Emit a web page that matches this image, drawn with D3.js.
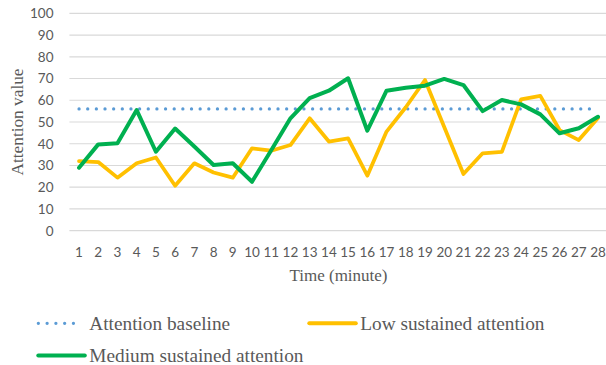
<!DOCTYPE html>
<html>
<head>
<meta charset="utf-8">
<script src="https://cdn.jsdelivr.net/npm/d3@7"></script>
<style>
  html, body { margin: 0; padding: 0; background: #fff; }
  svg { display: block; }
</style>
</head>
<body>
<svg id="chart" width="606" height="365"></svg>
<script>
const minutes = d3.range(1, 29).map(String);
const yTicks = [0, 10, 20, 30, 40, 50, 60, 70, 80, 90, 100];
const baselineValue = 56;
const baseline = minutes.map(() => baselineValue);
const lowSustained = [32, 31.6, 24.4, 31, 33.7, 20.7, 31, 26.8, 24.4, 37.9, 36.8, 39.4, 51.7, 41, 42.5, 25.3, 45.6, 56.8, 69.3, 47.7, 26.1, 35.6, 36.3, 60.4, 62, 46.3, 41.7, 51.8];
const mediumSustained = [29, 39.7, 40.2, 55.5, 36.3, 47, 38.7, 30.2, 31, 22.5, 37, 51.7, 61, 64.4, 70.1, 46, 64.4, 65.8, 66.7, 69.8, 67, 55, 60.1, 58.1, 53.5, 44.8, 47.1, 52.4];

const seriesNames = ["Attention baseline", "Low sustained attention", "Medium sustained attention"];
const seriesColors = ["#5B9BD5", "#FFC000", "#00B050"];

const svg = d3.select("#chart");
const x = d3.scalePoint().domain(minutes).range([69.4, 607.6]).padding(0.5);
const y = d3.scaleLinear().domain([0, 100]).range([230.7, 13.3]);

const textGray = "#595959";

// gridlines
svg.append("g").selectAll("line").data(yTicks).join("line")
  .attr("x1", 69.4).attr("x2", 606)
  .attr("y1", d => y(d)).attr("y2", d => y(d))
  .attr("stroke", "#D9D9D9").attr("stroke-width", 1.2);

// y tick labels
svg.append("g").selectAll("text").data(yTicks).join("text")
  .attr("x", 53.5).attr("y", d => y(d)).attr("dy", "0.36em")
  .attr("text-anchor", "end")
  .attr("font-family", "Lato, 'Open Sans', sans-serif").attr("font-size", 13.5)
  .attr("fill", textGray)
  .text(d => d);

// x tick labels
svg.append("g").selectAll("text").data(minutes).join("text")
  .attr("x", d => x(d)).attr("y", 256.7)
  .attr("text-anchor", "middle")
  .attr("font-family", "Lato, 'Open Sans', sans-serif").attr("font-size", 13.5)
  .attr("fill", textGray)
  .text(d => d);

// axis titles
svg.append("text")
  .attr("x", 338.5).attr("y", 281)
  .attr("text-anchor", "middle")
  .attr("font-family", "'Liberation Serif', 'Times New Roman', serif").attr("font-size", 17)
  .attr("fill", textGray)
  .text("Time (minute)");

svg.append("text")
  .attr("transform", "translate(22.5,122) rotate(-90)")
  .attr("text-anchor", "middle")
  .attr("font-family", "'Liberation Serif', 'Times New Roman', serif").attr("font-size", 17.3)
  .attr("fill", textGray)
  .text("Attention value");

const line = d3.line().x((d, i) => x(minutes[i])).y(d => y(d));

// baseline (dotted)
svg.append("path").datum(baseline)
  .attr("d", line)
  .attr("fill", "none").attr("stroke", seriesColors[0])
  .attr("stroke-width", 3.2).attr("stroke-linecap", "round")
  .attr("stroke-dasharray", "0.1 8.55");

svg.append("path").datum(lowSustained)
  .attr("d", line)
  .attr("fill", "none").attr("stroke", seriesColors[1])
  .attr("stroke-width", 3.75).attr("stroke-linejoin", "round").attr("stroke-linecap", "round");

svg.append("path").datum(mediumSustained)
  .attr("d", line)
  .attr("fill", "none").attr("stroke", seriesColors[2])
  .attr("stroke-width", 4).attr("stroke-linejoin", "round").attr("stroke-linecap", "round");

// legend
const legendItems = [
  { name: seriesNames[0], color: seriesColors[0], x: 38.3, y: 323.3, dotted: true },
  { name: seriesNames[1], color: seriesColors[1], x: 309.3, y: 323.3, dotted: false },
  { name: seriesNames[2], color: seriesColors[2], x: 38.3, y: 355.5, dotted: false }
];
const lg = svg.append("g").selectAll("g").data(legendItems).join("g");
lg.append("line")
  .attr("x1", d => d.x).attr("x2", d => d.x + (d.dotted ? 43.4 : 46.5))
  .attr("y1", d => d.y).attr("y2", d => d.y)
  .attr("stroke", d => d.color)
  .attr("stroke-width", d => d.dotted ? 3.2 : 4)
  .attr("stroke-linecap", "round")
  .attr("stroke-dasharray", d => d.dotted ? "0.1 8.67" : null);
lg.append("text")
  .attr("x", d => d.x + 51)
  .attr("y", d => d.y + 6.8)
  .attr("font-family", "'Liberation Serif', 'Times New Roman', serif").attr("font-size", 19.3)
  .attr("fill", textGray)
  .text(d => d.name);
</script>
</body>
</html>
